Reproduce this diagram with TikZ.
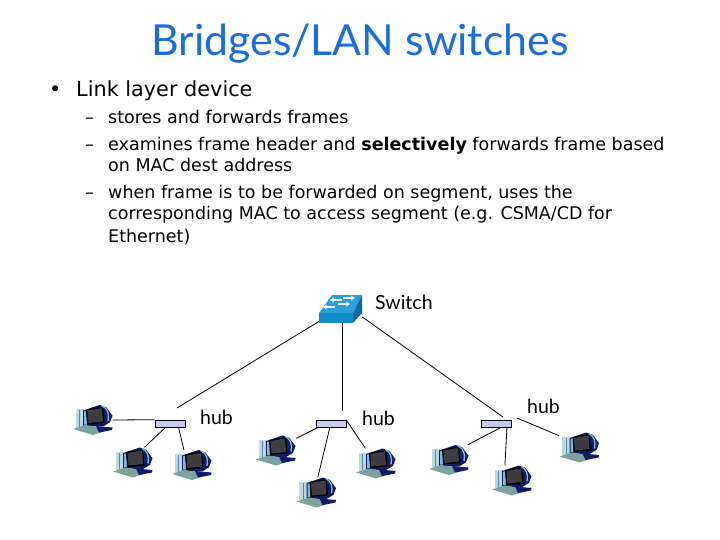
\documentclass[tikz,border=0pt]{standalone}
\usepackage{fontspec}
\setmainfont{DejaVu Sans}
\newfontfamily\titlefont{Lato}
\usetikzlibrary{arrows.meta}
\definecolor{titleblue}{RGB}{28,108,220}
\definecolor{hubfill}{RGB}{200,200,240}
\definecolor{swtop}{RGB}{38,160,214}
\definecolor{swfront}{RGB}{16,140,200}
\definecolor{swside}{RGB}{10,105,165}
\definecolor{pcnavy}{RGB}{16,26,100}
\definecolor{pcblue}{RGB}{120,190,232}
\definecolor{pctower}{RGB}{190,216,224}
\definecolor{pcscreen}{RGB}{62,62,66}
\definecolor{pckeys}{RGB}{125,162,158}
\newcommand{\pcicon}{%
    \begin{scope}[shift={(path picture bounding box.center)}]
        % tower
        \fill[pctower] (-17.5,-11) rectangle (-9,7.5);
        \fill[pcblue!70!black] (-14,-10) rectangle (-13.2,7);
        % monitor
        \fill[pcnavy] (-10,-9.5) -- (6.7,-15) -- (13.3,-12.7) -- (19.5,-4.3) -- (17,2.3) -- (10,6.5) -- (-10,6) -- cycle;
        \fill[pcblue] (-9,-8.5) -- (-6.5,-9.5) -- (-6,4.5) -- (-9,4.5) -- cycle;
        \fill[black] (-7,-10.5) -- (10,-13.5) -- (11.5,3) -- (-6,4.5) -- cycle;
        \fill[pcscreen] (-5.5,-9.5) -- (9,-12) -- (10,1.5) -- (-4.5,3) -- cycle;
        \draw[pcblue,line width=1.3pt] (9,-14) .. controls (14.5,-12) and (16.5,-6) .. (15,1);
        % keyboard
        \fill[pckeys] (-20,9) -- (-8,5) -- (19,9) -- (0,15) -- cycle;
        \fill[pcnavy] (3,6) -- (19.5,7.5) -- (19,10) -- (6,12.5) -- cycle;
    \end{scope}}
\newcommand{\switchicon}{%
    \begin{scope}[shift={(path picture bounding box.center)}]
        \fill[swtop] (-21.5,4) -- (-8.5,-14) -- (21.5,-14) -- (12.5,4) -- cycle;
        \fill[swfront] (-21.5,4) rectangle (12.5,14);
        \fill[swside] (12.5,4) -- (21.5,-14) -- (21.5,4) -- (12.5,14) -- cycle;
        % arrows on the top face
        \draw[swarrow,<-] (-10.5,-9) -- (1.5,-9);
        \draw[swarrow,->] (2.5,-11) -- (14.5,-11);
        \draw[swarrow,<-] (-17.5,-2) -- (-5.5,-2);
        \draw[swarrow,->] (-2.5,-5) -- (9.5,-5);
    \end{scope}}
\tikzset{
    swarrow/.style={white,line width=1.4pt,>={Stealth[length=4pt,width=5pt]}},
    pc/.style={minimum width=40pt,minimum height=30pt,inner sep=0pt,path picture={\pcicon}},
    switchbox/.style={minimum width=43pt,minimum height=28pt,inner sep=0pt,path picture={\switchicon}},
    hubbox/.style={draw=black,line width=.6pt,fill=hubfill,minimum width=30pt,minimum height=7pt,inner sep=0pt},
    link/.style={line width=.8pt},
    heading/.style={anchor=base,font=\titlefont\fontsize{42.8}{43}\selectfont,text=titleblue,inner sep=0pt},
    mainitem/.style={anchor=base west,font=\fontsize{20.8}{21}\selectfont,inner sep=0pt},
    subitem/.style={anchor=base west,font=\fontsize{17.5}{18}\selectfont,inner sep=0pt},
    tag/.style={anchor=base west,font=\titlefont\fontsize{19.5}{20}\selectfont,inner sep=0pt}
}
\begin{document}
\begin{tikzpicture}[x=1pt,y=-1pt]
    \useasboundingbox (0,0) rectangle (720,540);

    % Text:
    \node[heading] (title) at (360,56) {Bridges/LAN switches};
    \node[mainitem] (bullet) at (49,97) {•};
    \node[mainitem] (item) at (76,97) {Link layer device};
    \foreach \name/\x/\y/\linetext in {
        dashA/85/124/--, lineA/108/124/stores and forwards frames,
        dashB/85/151/--, lineB/108/151/{examines frame header and \textbf{selectively} forwards frame based},
        lineC/108/172/on MAC dest address,
        dashC/85/199/--, lineD/108/199/{when frame is to be forwarded on segment, uses the},
        lineE/108/220/{corresponding MAC to access segment (e.g. CSMA/CD for},
        lineF/108/242/Ethernet)}
        \node[subitem] (\name) at (\x,\y) {\linetext};

    % Devices:
    \node[switchbox] (switch) at (340.5,309) {};
    \node[tag] (switchtag) at (375,309) {Switch};

    \node[hubbox] (hubA) at (170,423.5) {};
    \node[hubbox] (hubB) at (331.5,423.5) {};
    \node[hubbox] (hubC) at (496.5,424) {};
    \node[tag] (hubtagA) at (200,424) {hub};
    \node[tag] (hubtagB) at (362,425) {hub};
    \node[tag] (hubtagC) at (527,413) {hub};

    \foreach \name/\x/\y in {pcA/93/420, pcB/133/462.5, pcC/192/465, pcD/276/450.5,
        pcE/316.5/492.5, pcF/376/463.5, pcG/449/460, pcH/512/480.5, pcI/579.5/447.5}
        \node[pc] (\name) at (\x,\y) {};

    % Free ends near the hubs:
    \coordinate (endA) at (177,408);
    \coordinate (endB) at (342,411);
    \coordinate (endC) at (503,417);
    \coordinate (endD) at (517,418);

    % Links:
    \draw[link] (switch.-150) -- (endA);
    \draw[link] (switch.-90) ++(1.5,0) -- (endB);
    \draw[link] (switch.-20) -- (endC);

    \draw[link] (pcA.east) -- (hubA.north west);
    \draw[link] (pcB.53) -- (hubA.221);
    \draw[link] (pcC.118) -- (hubA.336);
    \draw[link] (pcD.31) -- (hubB.196);
    \draw[link] (pcE.85) -- (hubB.247);
    \draw[link] (pcF.125) -- (hubB.10);
    \draw[link] (pcG.39) -- (hubC.315);
    \draw[link] (pcH.115) -- (hubC.340);
    \draw[link] (pcI.150) -- (endD);
\end{tikzpicture}
\end{document}
